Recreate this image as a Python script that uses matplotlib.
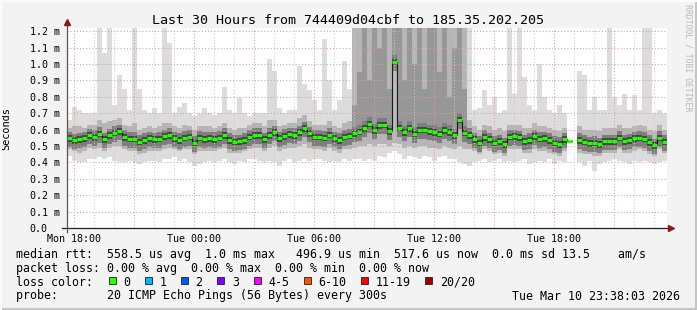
import numpy as np
import matplotlib
matplotlib.use("Agg")
import matplotlib.pyplot as plt
from matplotlib.patches import Rectangle

W, H, DPI = 697, 310, 100

# 15 minute buckets from Mon 17:38:03 to Tue 23:38:03 (30 hours), values in ms
bucket_h = 0.25
median = [
    0.547, 0.535, 0.54, 0.547, 0.565, 0.555, 0.575, 0.54, 0.565, 0.58,
    0.59, 0.555, 0.545, 0.545, 0.527, 0.537, 0.547, 0.54, 0.545, 0.56,
    0.567, 0.547, 0.537, 0.55, 0.557, 0.52, 0.55, 0.543, 0.547, 0.543,
    0.55, 0.567, 0.537, 0.526, 0.53, 0.537, 0.557, 0.567, 0.567, 0.54,
    0.567, 0.583, 0.547, 0.561, 0.571, 0.567, 0.583, 0.608, 0.577, 0.557,
    0.557, 0.55, 0.57, 0.547, 0.537, 0.557, 0.563, 0.577, 0.587, 0.61,
    0.635, 0.595, 0.628, 0.63, 0.59, 1.015, 0.612, 0.583, 0.61, 0.575,
    0.6, 0.6, 0.59, 0.585, 0.575, 0.598, 0.585, 0.565, 0.66, 0.58,
    0.567, 0.54, 0.52, 0.555, 0.54, 0.52, 0.53, 0.51, 0.557, 0.56,
    0.553, 0.53, 0.537, 0.56, 0.545, 0.547, 0.537, 0.52, 0.512, 0.54,
    0.53, np.nan, 0.537, 0.526, 0.516, 0.52, 0.51, 0.53, 0.53, 0.53,
    0.55, 0.53, 0.535, 0.547, 0.55, 0.545, 0.525, 0.505, 0.55, 0.526,
]
rtt_min = [
    0.44, 0.41, 0.40, 0.40, 0.42, 0.42, 0.43, 0.42, 0.43, 0.41,
    0.40, 0.40, 0.41, 0.40, 0.39, 0.40, 0.41, 0.41, 0.40, 0.42,
    0.42, 0.43, 0.41, 0.42, 0.40, 0.38, 0.39, 0.40, 0.41, 0.40,
    0.41, 0.42, 0.40, 0.39, 0.41, 0.40, 0.42, 0.42, 0.41, 0.40,
    0.41, 0.40, 0.38, 0.41, 0.42, 0.40, 0.41, 0.42, 0.41, 0.42,
    0.42, 0.41, 0.40, 0.41, 0.40, 0.42, 0.41, 0.42, 0.42, 0.41,
    0.42, 0.41, 0.44, 0.43, 0.46, 0.47, 0.45, 0.42, 0.44, 0.43,
    0.42, 0.44, 0.43, 0.41, 0.43, 0.44, 0.42, 0.42, 0.40, 0.39,
    0.38, 0.40, 0.41, 0.42, 0.40, 0.41, 0.42, 0.40, 0.41, 0.40,
    0.41, 0.42, 0.39, 0.40, 0.41, 0.40, 0.42, 0.39, 0.41, 0.40,
    0.41, np.nan, 0.40, 0.38, 0.41, 0.35, 0.39, 0.40, 0.41, 0.42,
    0.41, 0.40, 0.39, 0.41, 0.40, 0.41, 0.40, 0.39, 0.40, 0.41,
]
rtt_lo = [
    0.48, 0.47, 0.46, 0.47, 0.49, 0.48, 0.49, 0.47, 0.49, 0.50,
    0.50, 0.48, 0.47, 0.47, 0.45, 0.46, 0.47, 0.47, 0.47, 0.48,
    0.49, 0.48, 0.47, 0.48, 0.48, 0.45, 0.47, 0.47, 0.47, 0.47,
    0.48, 0.49, 0.46, 0.46, 0.46, 0.47, 0.48, 0.49, 0.49, 0.47,
    0.49, 0.50, 0.47, 0.48, 0.49, 0.49, 0.50, 0.51, 0.49, 0.48,
    0.48, 0.47, 0.49, 0.47, 0.46, 0.48, 0.48, 0.49, 0.50, 0.50,
    0.51, 0.50, 0.51, 0.51, 0.50, 0.52, 0.51, 0.49, 0.50, 0.49,
    0.50, 0.50, 0.49, 0.49, 0.48, 0.50, 0.49, 0.48, 0.50, 0.48,
    0.48, 0.47, 0.45, 0.48, 0.47, 0.45, 0.46, 0.44, 0.48, 0.48,
    0.48, 0.46, 0.46, 0.48, 0.47, 0.47, 0.46, 0.45, 0.44, 0.47,
    0.46, np.nan, 0.46, 0.45, 0.45, 0.44, 0.44, 0.46, 0.46, 0.46,
    0.48, 0.46, 0.46, 0.47, 0.48, 0.47, 0.45, 0.44, 0.48, 0.46,
]
rtt_hi = [
    0.61, 0.62, 0.62, 0.61, 0.63, 0.63, 0.66, 0.64, 0.65, 0.66,
    0.67, 0.63, 0.62, 0.64, 0.60, 0.61, 0.62, 0.61, 0.62, 0.64,
    0.64, 0.62, 0.61, 0.63, 0.62, 0.60, 0.62, 0.62, 0.62, 0.61,
    0.62, 0.64, 0.61, 0.60, 0.61, 0.61, 0.63, 0.64, 0.64, 0.62,
    0.66, 0.66, 0.62, 0.63, 0.64, 0.64, 0.67, 0.69, 0.65, 0.63,
    0.63, 0.63, 0.65, 0.62, 0.61, 0.64, 0.65, 1.25, 1.25, 1.25,
    1.25, 1.25, 1.25, 1.25, 1.25, 1.25, 1.25, 1.25, 1.25, 1.25,
    1.25, 1.25, 1.25, 1.25, 1.25, 1.25, 1.25, 1.25, 1.25, 1.25,
    0.66, 0.62, 0.60, 0.63, 0.62, 0.60, 0.61, 0.59, 0.63, 0.63,
    0.63, 0.61, 0.61, 0.64, 0.62, 0.62, 0.61, 0.60, 0.59, 0.61,
    0.60, np.nan, 0.62, 0.60, 0.60, 0.60, 0.59, 0.61, 0.61, 0.61,
    0.63, 0.61, 0.61, 0.62, 0.63, 0.62, 0.60, 0.59, 0.63, 0.60,
]
rtt_max = [
    0.66, 0.74, 0.72, 0.70, 0.70, 0.70, 1.25, 1.07, 1.25, 0.75,
    0.93, 0.85, 0.72, 1.25, 0.85, 0.72, 0.70, 0.73, 0.70, 1.25,
    1.13, 0.70, 0.74, 0.76, 0.70, 0.68, 0.70, 0.73, 0.70, 0.69,
    0.70, 0.86, 0.72, 0.70, 0.79, 0.70, 0.68, 0.70, 0.70, 0.70,
    1.03, 0.96, 0.73, 0.70, 0.72, 0.72, 0.99, 0.88, 0.84, 0.78,
    0.72, 1.15, 0.90, 0.72, 0.78, 1.02, 0.85, 1.25, 1.25, 1.25,
    1.25, 1.25, 1.25, 1.25, 1.25, 1.25, 1.25, 1.25, 1.25, 1.25,
    1.25, 1.25, 1.25, 1.25, 1.25, 1.25, 1.25, 1.25, 1.25, 1.25,
    1.25, 0.72, 0.73, 0.84, 0.75, 0.80, 0.70, 0.72, 1.25, 0.82,
    1.25, 0.92, 0.75, 0.72, 1.00, 0.80, 0.72, 0.70, 0.75, 0.70,
    0.69, np.nan, 0.96, 0.93, 0.72, 0.80, 0.72, 0.72, 1.25, 0.80,
    0.75, 0.82, 0.72, 0.81, 0.72, 1.25, 1.25, 0.70, 0.72, 0.70,
]
# upper quartile during the busy stretch Tue 07:53 - 13:38 (buckets 57..79)
busy_start = 57
busy_q3 = [
    0.75, 0.95, 1.25, 0.90, 1.25, 1.10, 1.25, 0.85, 1.25, 1.25,
    0.90, 1.25, 1.00, 1.25, 0.85, 1.25, 1.25, 0.95, 1.25, 0.80,
    1.10, 1.25, 0.85,
]

time_labels = ["Mon 18:00", "Tue 00:00", "Tue 06:00", "Tue 12:00", "Tue 18:00"]
first_hour = 22 / 60 - 3 / 3600   # 18:00 measured from 17:38:03
y_values = np.arange(0, 13) / 10
y_labels = ["0.0"] + [f"{v:.1f} m" for v in y_values[1:]]

loss_labels = ["0", "1", "2", "3", "4-5", "6-10", "11-19", "20/20"]
loss_colors = ["#26ff00", "#00b8ff", "#0059ff", "#7e00ff", "#ff00ff", "#ff5500", "#ff0000", "#a10000"]

legend_lines = [
    "median rtt:  558.5 us avg  1.0 ms max   496.9 us min  517.6 us now  0.0 ms sd 13.5    am/s",
    "packet loss: 0.00 % avg  0.00 % max  0.00 % min  0.00 % now",
    "loss color:",
    "probe:       20 ICMP Echo Pings (56 Bytes) every 300s",
]
stamp = "Tue Mar 10 23:38:03 2026"
title = "Last 30 Hours from 744409d04cbf to 185.35.202.205"

plt.rcParams['font.family'] = 'DejaVu Sans Mono'

fig = plt.figure(figsize=(W / DPI, H / DPI), dpi=DPI, facecolor='#f3f3f3')
ax = fig.add_axes([66.5 / W, 1 - 228 / H, 600 / W, (228 - 27.7) / H])
ax.set_facecolor('white')

n = len(median)
edges = np.arange(n + 1) * bucket_h


def ext(a):
    a = np.asarray(a, dtype=float)
    return np.append(a, a[-1])


med = ext(median)
ax.fill_between(edges, ext(rtt_min), ext(rtt_max), step='post', color='#dcdcdc', lw=0, zorder=1)
ax.fill_between(edges, ext(rtt_lo), ext(rtt_hi), step='post', color='#b6b6b6', lw=0, zorder=1.1)
busy_edges = edges[busy_start:busy_start + len(busy_q3) + 1]
ax.fill_between(busy_edges, med[busy_start:busy_start + len(busy_q3) + 1], ext(busy_q3),
                step='post', color='#979797', lw=0, zorder=1.15)
ax.fill_between(edges, med - 0.055, med + 0.04, step='post', color='#7e7e7e', lw=0, zorder=1.2)
ax.fill_between(edges, med - 0.022, med + 0.018, step='post', color='#474747', lw=0, zorder=1.3)
ax.step(edges, med, where='post', color='#1a1a1a', lw=0.8, zorder=4)
ax.hlines(median, edges[:-1], edges[1:], color='#22ff00', lw=2.2, zorder=5)

ax.set_xlim(0, 30)
ax.set_ylim(0, 1.2213)

# grid: hourly minor, 3-hourly major, every 0.1 ms horizontally
dots = (0, (1, 2))
for k in range(30):
    h = first_hour + k
    col = '#e49a9a' if k % 3 == 0 else '#d6c8c8'
    ax.axvline(h, color=col, lw=0.75, ls=dots, zorder=3)
for v in y_values[1:]:
    ax.axhline(v, color='#e49a9a', lw=0.75, ls=dots, zorder=3)

ax.set_xticks([first_hour + 6 * k for k in range(len(time_labels))], time_labels)
ax.set_yticks(y_values, y_labels)
ax.tick_params(axis='x', length=0, pad=4, labelsize=7.2)
ax.tick_params(axis='y', length=0, pad=26.5, labelsize=7.2)
for t in ax.get_yticklabels():
    t.set_horizontalalignment('left')
ax.set_ylabel("Seconds", fontsize=7.4)
ax.yaxis.set_label_coords(-0.0925, 0.494)

for s in ax.spines.values():
    s.set_visible(False)
ax.plot([-0.008, 1.006], [0, 0], transform=ax.transAxes, color='#222222', lw=0.9, clip_on=False, zorder=6)
ax.plot([0, 0], [-0.02, 1.02], transform=ax.transAxes, color='#555555', lw=0.9, clip_on=False, zorder=6)
ax.plot([1.008], [0], marker='>', ms=4, color='#8b1a1a', transform=ax.transAxes, clip_on=False, zorder=7)
ax.plot([0], [1.026], marker='^', ms=4, color='#8b1a1a', transform=ax.transAxes, clip_on=False, zorder=7)

fig.text(347.7 / W, 1 - 24 / H, title, ha='center', va='baseline', fontsize=9.6)
fig.text(688 / W, 1 - 4 / H, "RRDTOOL / TOBI OETIKER", rotation=270, ha='center', va='top',
         fontsize=5.9, color='#b8b8b8')

cw = 7.03
baselines = [257.7, 272.0, 285.5, 299.5]
for line, b in zip(legend_lines, baselines):
    fig.text(16 / W, 1 - b / H, line, ha='left', va='baseline', fontsize=8.4)
fig.text(680 / W, 1 - baselines[3] / H, stamp, ha='right', va='baseline', fontsize=8.4)

col = 13.2
for lab, c in zip(loss_labels, loss_colors):
    x0 = 16 + col * cw
    fig.add_artist(Rectangle((x0 / W, 1 - 283.7 / H), 7 / W, 7 / H, transform=fig.transFigure,
                             facecolor=c, edgecolor='#202020', lw=0.6))
    fig.text((16 + (col + 2.05) * cw) / W, 1 - baselines[2] / H, lab, ha='left', va='baseline', fontsize=8.4)
    col += 2.05 + len(lab) + 2.1

# rrdtool style bevel round the picture
fig.add_artist(Rectangle((0, 0), 1, 2 / H, transform=fig.transFigure, color='#c6c6c6', lw=0))
fig.add_artist(Rectangle((1 - 2 / W, 0), 2 / W, 1, transform=fig.transFigure, color='#c6c6c6', lw=0))
fig.add_artist(Rectangle((0, 1 - 2 / H), 1, 2 / H, transform=fig.transFigure, color='#fbfbfb', lw=0))
fig.add_artist(Rectangle((0, 0), 2 / W, 1, transform=fig.transFigure, color='#fbfbfb', lw=0))

fig.savefig('out.png', dpi=DPI, facecolor=fig.get_facecolor())
